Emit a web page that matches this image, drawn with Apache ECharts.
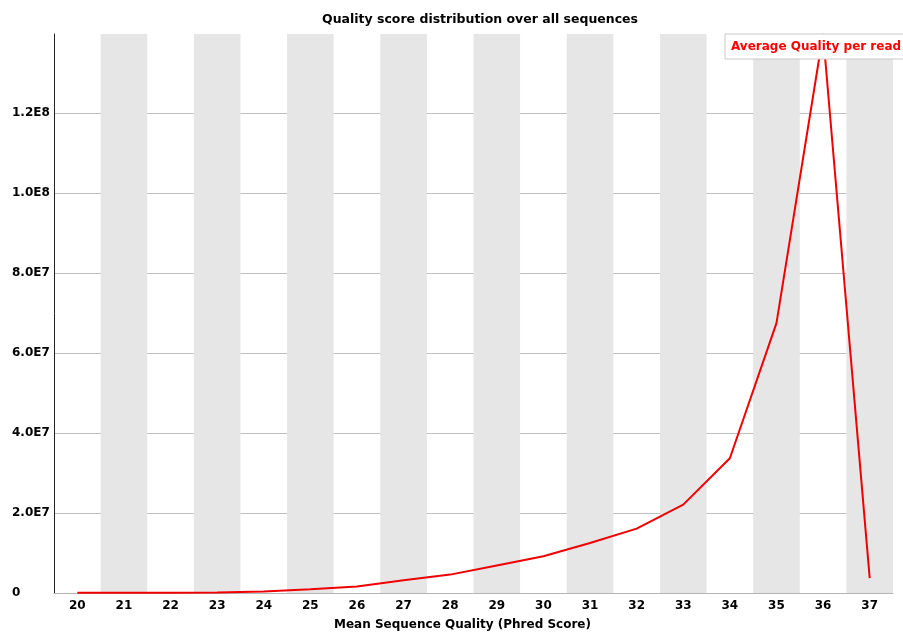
<!DOCTYPE html>
<html>
<head>
<meta charset="utf-8">
<script src="https://cdn.jsdelivr.net/npm/echarts@6/dist/echarts.min.js"></script>
<style>html,body{margin:0;padding:0;background:#fff}#c{width:903px;height:632px}</style>
</head>
<body>
<div id="c"></div>
<script>
var categories = ['20','21','22','23','24','25','26','27','28','29','30','31','32','33','34','35','36','37'];
var avgQuality = [50000, 60000, 80000, 150000, 400000, 950000, 1600000, 3200000, 4600000, 6900000, 9200000, 12500000, 16100000, 22100000, 33700000, 67500000, 139800000, 3700000];
var yMax = 139800000;
var yInterval = 20000000;
var titleText = 'Quality score distribution over all sequences';
var xName = 'Mean Sequence Quality (Phred Score)';
var seriesName = 'Average Quality per read';

function fmt(v) {
  if (v === 0) return '0';
  if (Math.abs(v % yInterval) > 1) return '';
  var e = Math.floor(Math.log10(v));
  var m = v / Math.pow(10, e);
  return m.toFixed(1) + 'E' + e;
}

var chart = echarts.init(document.getElementById('c'), null, {renderer: 'canvas'});
var font = 'DejaVu Sans';
chart.setOption({
  animation: false,
  backgroundColor: '#fff',
  title: {
    text: titleText, left: 317, top: 8,
    textStyle: {fontFamily: font, fontSize: 12.5, fontWeight: 'bold', color: '#000'}
  },
  legend: {
    data: [seriesName], left: 725, top: 34, icon: 'rect', itemWidth: 0, itemHeight: 0, itemGap: 0,
    backgroundColor: '#fff', borderColor: '#c8c8c8', borderWidth: 1, padding: [7, 3, 6, 1],
    textStyle: {fontFamily: font, fontSize: 12, fontWeight: 'bold', color: '#ff0000'}
  },
  grid: {left: 54, right: 10, top: 34, bottom: 39, outerBoundsMode: 'none', containLabel: false},
  xAxis: {
    type: 'category', data: categories, boundaryGap: true,
    name: xName, nameLocation: 'middle', nameGap: 26,
    nameTextStyle: {fontFamily: font, fontSize: 12, fontWeight: 'bold', color: '#000', padding: [0, 22, 0, 0]},
    axisLine: {lineStyle: {color: '#b4b4b4', width: 1}},
    axisTick: {show: false},
    axisLabel: {fontFamily: font, fontSize: 12, fontWeight: 'bold', color: '#000', margin: 7},
    splitArea: {show: true, areaStyle: {color: ['rgba(255,255,255,0)', '#e6e6e6']}},
    splitLine: {show: false}
  },
  yAxis: {
    type: 'value', min: 0, max: yMax, interval: yInterval,
    axisLine: {show: true, lineStyle: {color: '#222', width: 1}},
    axisTick: {show: false},
    axisLabel: {fontFamily: font, fontSize: 12, fontWeight: 'bold', color: '#000', margin: 42, align: 'left', formatter: fmt, showMaxLabel: false},
    splitLine: {show: true, showMinLine: false, showMaxLine: false, lineStyle: {color: '#c0c0c0', width: 1}}
  },
  series: [{
    name: seriesName, type: 'line', data: avgQuality, showSymbol: false, symbol: 'none',
    lineStyle: {color: '#f00000', width: 2}, itemStyle: {color: '#f00000'}, clip: false
  }]
});
</script>
</body>
</html>
